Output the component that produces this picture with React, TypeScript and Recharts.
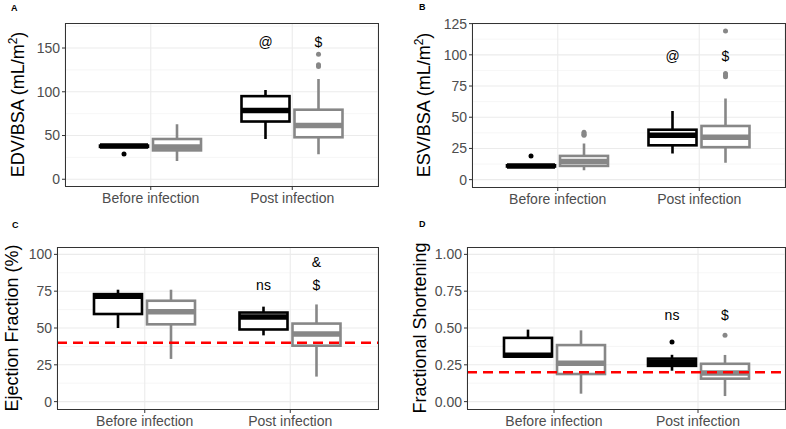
import React from "react";
import {
  Bar,
  CartesianGrid,
  ComposedChart,
  Label,
  ReferenceLine,
  XAxis,
  YAxis,
} from "recharts";

const FONT = '"Liberation Sans", Arial, Helvetica, sans-serif';
const CONTROL = "#000000";
const COVID = "#878787";

const categories = ["Before infection", "Post infection"];

// [lower whisker, Q1, median, Q3, upper whisker] for each category
const edvControl = [[37, 37, 38, 38.5, 38.5], [46, 66, 78.5, 95, 102]];
const edvCovid = [[21, 33, 37, 46, 63], [28.5, 48, 61.5, 79.5, 114.5]];
const edvControlOutliers = [[29], []];
const edvCovidOutliers = [[], [143, 131, 129]];
const edvControlMarks = [[], [["@", 157]]];
const edvCovidMarks = [[], [["$", 157]]];
const edvTicks = [0, 50, 100, 150];
const edvMinor = [25, 75, 125, 175];

const esvControl = [[10.5, 10.5, 11, 11.5, 11.5], [21, 27.5, 35.5, 40, 55]];
const esvCovid = [[7.5, 11, 14.5, 19, 29], [13.5, 26, 34, 43, 65]];
const esvControlOutliers = [[19], []];
const esvCovidOutliers = [[38, 37, 36, 35.5], [119, 85, 83.5, 82.5]];
const esvControlMarks = [[], [["@", 99]]];
const esvCovidMarks = [[], [["$", 99]]];
const esvTicks = [0, 25, 50, 75, 100, 125];
const esvMinor = [12.5, 37.5, 62.5, 87.5, 112.5];

const efControl = [[50, 59.5, 71.5, 73, 76], [45, 49, 57.5, 60.5, 64.5]];
const efCovid = [[29, 52.5, 61, 68.5, 76], [17, 38, 46, 53, 66]];
const efControlOutliers = [[], []];
const efCovidOutliers = [[], []];
const efControlMarks = [[], [["ns", 79]]];
const efCovidMarks = [[], [["$", 79], ["&", 94.5]]];
const efTicks = [0, 25, 50, 75, 100];
const efMinor = [12.5, 37.5, 62.5, 87.5];
const efCutoff = 40;

const fsControl = [[0.306, 0.306, 0.315, 0.433, 0.489], [0.21, 0.243, 0.266, 0.292, 0.318]];
const fsCovid = [[0.054, 0.1875, 0.261, 0.384, 0.484], [0.038, 0.156, 0.194, 0.257, 0.317]];
const fsControlOutliers = [[], [0.405]];
const fsCovidOutliers = [[], [0.45]];
const fsControlMarks = [[], [["ns", 0.59]]];
const fsCovidMarks = [[], [["$", 0.59]]];
const fsTicks = [0, 0.25, 0.5, 0.75, 1];
const fsMinor = [0.125, 0.375, 0.625, 0.875];
const fsCutoff = 0.2;

type Mark = [string, number];

function span(stats: number[], out: number[], marks: Mark[]) {
  const all = [...stats, ...out, ...marks.map((m) => m[1])];
  return [Math.min(...all), Math.max(...all)];
}

function buildRows(ctrl: number[][], covid: number[][], ctrlOut: number[][], covidOut: number[][], ctrlMarks: any[], covidMarks: any[]) {
  return categories.map((name, i) => ({
    name,
    control: span(ctrl[i], ctrlOut[i], ctrlMarks[i]),
    covid: span(covid[i], covidOut[i], covidMarks[i]),
    controlBox: { stats: ctrl[i], out: ctrlOut[i], marks: ctrlMarks[i] },
    covidBox: { stats: covid[i], out: covidOut[i], marks: covidMarks[i] },
  }));
}

// bar geometry covers [lowest, highest] value of the group, so we map values
// to pixels with the same linear scale recharts used for the bar
function BoxShape(props: any) {
  const { x, y, width, height, payload, group, color } = props;
  const [lo, hi] = payload[group];
  const box = payload[group + "Box"];
  const top = Math.min(y, y + height);
  const h = Math.abs(height);
  const py = (v: number) => top + ((hi - v) / (hi - lo)) * h;
  const cx = x + width / 2;
  const [wlo, q1, med, q3, whi] = box.stats;
  return (
    <g>
      <line x1={cx} x2={cx} y1={py(q3)} y2={py(whi)} stroke={color} strokeWidth={2.6} />
      <line x1={cx} x2={cx} y1={py(q1)} y2={py(wlo)} stroke={color} strokeWidth={2.6} />
      <rect x={x} y={py(q3)} width={width} height={py(q1) - py(q3)} fill="#fff" stroke={color} strokeWidth={2.6} />
      <line x1={x} x2={x + width} y1={py(med)} y2={py(med)} stroke={color} strokeWidth={5.5} />
      {box.out.map((v: number, k: number) => (
        <circle key={k} cx={cx} cy={py(v)} r={2.5} fill={color} />
      ))}
      {box.marks.map((m: Mark, k: number) => (
        <text key={"m" + k} x={cx} y={py(m[1])} textAnchor="middle" dominantBaseline="central" fontSize={14} fontFamily={FONT} fill="#000">
          {m[0]}
        </text>
      ))}
    </g>
  );
}

function YTitle({ viewBox, text, sup, bx }: any) {
  const cy = viewBox.y + viewBox.height / 2;
  const x = viewBox.x + bx;
  return (
    <text x={x} y={cy} transform={`rotate(-90, ${x}, ${cy})`} textAnchor="middle" fontSize={18} fontFamily={FONT} fill="#000">
      {text}
      {sup && (
        <>
          <tspan dy={-7} fontSize={12}>{sup}</tspan>
          <tspan dy={7}>)</tspan>
        </>
      )}
    </text>
  );
}

function Panel(p: any) {
  const plotX = p.axisW;
  const plotY = p.mTop;
  const plotW = p.width - p.axisW - p.mRight;
  const plotH = p.height - p.mTop - p.axisH;
  const tickStyle = { fill: "#4D4D4D", fontSize: 14, fontFamily: FONT };
  return (
    <div style={{ position: "absolute", left: p.left, top: p.top, width: p.width, height: p.height }}>
      <ComposedChart
        width={p.width}
        height={p.height}
        data={p.rows}
        margin={{ top: p.mTop, right: p.mRight, bottom: 0, left: 0 }}
        barSize={48}
        barGap={5}
      >
        <CartesianGrid horizontalValues={p.minor} vertical={false} stroke="#F2F2F2" strokeWidth={0.7} />
        <CartesianGrid horizontalValues={p.ticks} stroke="#EBEBEB" strokeWidth={1.1} />
        <XAxis
          dataKey="name"
          padding={{ left: 15, right: 15 }}
          height={p.axisH}
          tickSize={4}
          tickMargin={3}
          axisLine={false}
          tickLine={{ stroke: "#333" }}
          tick={tickStyle}
          interval={0}
        />
        <YAxis
          type="number"
          domain={p.domain}
          ticks={p.ticks}
          allowDataOverflow
          width={p.axisW}
          tickSize={3}
          tickMargin={2}
          axisLine={false}
          tickLine={{ stroke: "#333" }}
          tick={tickStyle}
          tickFormatter={p.fmt}
        >
          <Label content={(lp: any) => <YTitle viewBox={lp.viewBox} text={p.title} sup={p.sup} bx={p.titleX} />} />
        </YAxis>
        <Bar dataKey="control" isAnimationActive={false} shape={(s: any) => <BoxShape {...s} group="control" color={CONTROL} />} />
        <Bar dataKey="covid" isAnimationActive={false} shape={(s: any) => <BoxShape {...s} group="covid" color={COVID} />} />
        {p.cutoff !== undefined && (
          <ReferenceLine y={p.cutoff} stroke="#FF0000" strokeWidth={2.5} strokeDasharray="10 6" />
        )}
      </ComposedChart>
      <div
        style={{
          position: "absolute",
          left: plotX,
          top: plotY,
          width: plotW + 1,
          height: plotH + 1,
          border: "1px solid #333",
          boxSizing: "border-box",
          pointerEvents: "none",
        }}
      />
      <div
        style={{
          position: "absolute",
          left: p.letterX,
          top: p.letterY,
          fontSize: 9,
          lineHeight: "9px",
          fontWeight: "bold",
          fontFamily: FONT,
        }}
      >
        {p.letter}
      </div>
    </div>
  );
}

export default function App() {
  return (
    <div style={{ position: "absolute", left: 0, top: 0, width: 786, height: 429, background: "#fff", overflow: "hidden" }}>
      <Panel
        left={0} top={0} width={393} height={215}
        axisW={65} mTop={23} mRight={15} axisH={29}
        domain={[-7.7, 178.6]} ticks={edvTicks} minor={edvMinor}
        rows={buildRows(edvControl, edvCovid, edvControlOutliers, edvCovidOutliers, edvControlMarks, edvCovidMarks)}
        title="EDV/BSA (mL/m" sup="2" titleX={24}
        letter="A" letterX={11} letterY={4}
      />
      <Panel
        left={393} top={0} width={393} height={215}
        axisW={79} mTop={23} mRight={1} axisH={28}
        domain={[-5.9, 125.5]} ticks={esvTicks} minor={esvMinor}
        rows={buildRows(esvControl, esvCovid, esvControlOutliers, esvCovidOutliers, esvControlMarks, esvCovidMarks)}
        title="ESV/BSA (mL/m" sup="2" titleX={37}
        letter="B" letterX={26} letterY={3}
      />
      <Panel
        left={0} top={215} width={393} height={214}
        axisW={57} mTop={32} mRight={15} axisH={20}
        domain={[-5, 105]} ticks={efTicks} minor={efMinor}
        rows={buildRows(efControl, efCovid, efControlOutliers, efCovidOutliers, efControlMarks, efCovidMarks)}
        title="Ejection Fraction (%)" titleX={18} cutoff={efCutoff}
        letter="C" letterX={12} letterY={6}
      />
      <Panel
        left={393} top={215} width={393} height={214}
        axisW={74} mTop={32} mRight={1} axisH={20}
        domain={[-0.05, 1.05]} ticks={fsTicks} minor={fsMinor}
        fmt={(v: number) => v.toFixed(2)}
        rows={buildRows(fsControl, fsCovid, fsControlOutliers, fsCovidOutliers, fsControlMarks, fsCovidMarks)}
        title="Fractional Shortening" titleX={33} cutoff={fsCutoff}
        letter="D" letterX={26} letterY={5}
      />
    </div>
  );
}
